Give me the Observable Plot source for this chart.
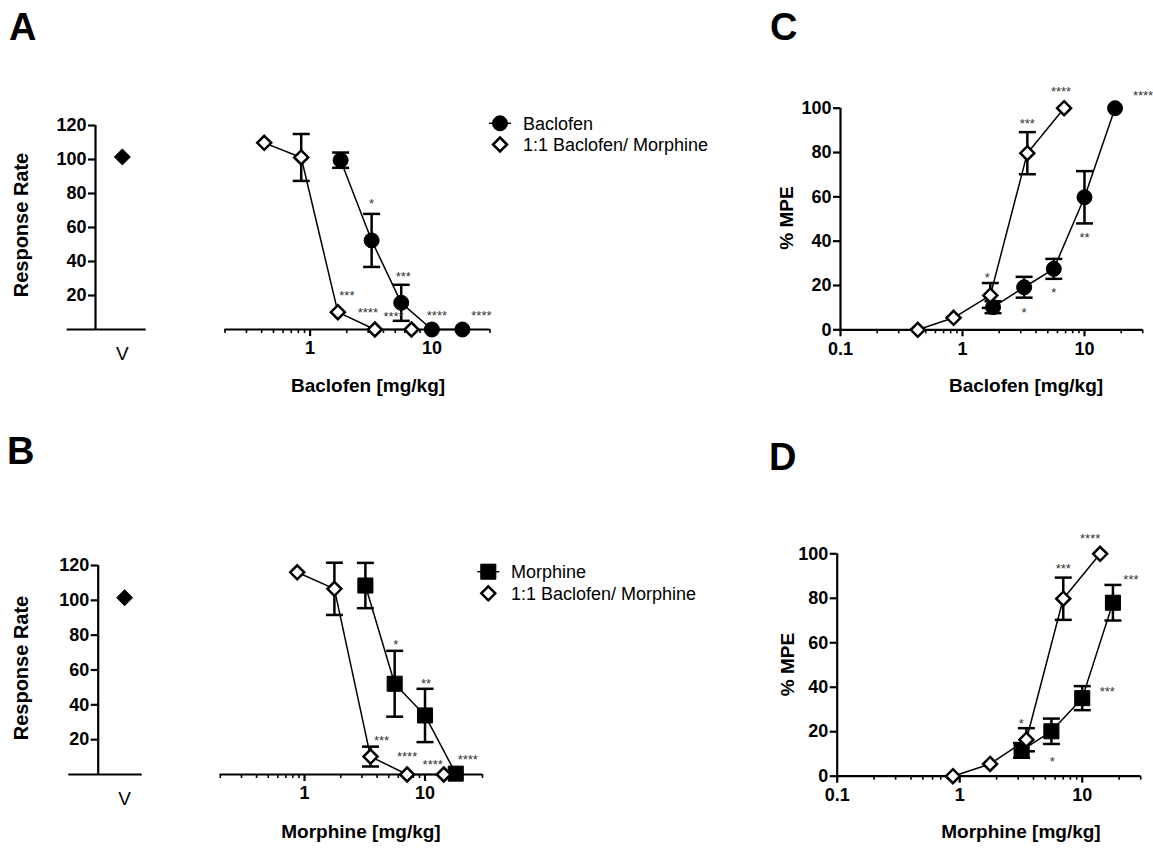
<!DOCTYPE html>
<html><head><meta charset="utf-8">
<script src="https://cdn.jsdelivr.net/npm/d3@7"></script>
<script src="https://cdn.jsdelivr.net/npm/@observablehq/plot@0.6"></script>
<style>
html,body{margin:0;padding:0;background:#fff;}
#root{position:relative;width:1153px;height:848px;overflow:hidden;background:#fff;}
#root svg{position:absolute;left:0;top:0;}
</style></head><body><div id="root"></div>
<script>
// ---------------- DATA ----------------
// Panel A: response rate, Baclofen alone vs 1:1 combination (baclofen dose)
const vehicleLabel = ["V"];
const vehicleRateA = [101.5];
const bacDoseA = [1.78, 3.2, 5.6, 10, 17.8];
const bacRateA = [99.6, 52.4, 15.7, 0, 0];
const bacRateErrA = [4.5, 15.6, 10.6, 0, 0];
const bacSigA = ["", "*", "***", "****", "****"];
const comboDoseA = [0.42, 0.845, 1.69, 3.4, 6.8];
const comboRateA = [109.8, 101.2, 10.2, 0, 0];
const comboRateErrA = [0, 13.8, 0, 0, 0];
const comboSigA = ["", "", "***", "****", "****"];

// Panel B: response rate, Morphine alone vs 1:1 combination (morphine dose)
const vehicleRateB = [101.5];
const morDoseB = [3.2, 5.6, 10, 18];
const morRateB = [108.5, 52.1, 33.9, 0.5];
const morRateErrB = [13, 18.9, 15.3, 0];
const morSigB = ["", "*", "**", "****"];
const comboDoseB = [0.87, 1.77, 3.53, 7.1, 14.3];
const comboRateB = [116.1, 106.6, 10.3, 0, 0];
const comboRateErrB = [0, 15, 5.7, 0, 0];
const comboSigB = ["", "", "***", "****", "****"];

// Panel C: %MPE, Baclofen vs combination
const bacDoseC = [1.78, 3.2, 5.6, 10, 17.8];
const bacMpeC = [10.2, 19.2, 27.5, 59.8, 100];
const bacMpeErrC = [2.7, 4.7, 4.5, 11.8, 0];
const bacSigC = ["", "*", "*", "**", "****"];
const comboDoseC = [0.43, 0.845, 1.69, 3.4, 6.8];
const comboMpeC = [0, 5.4, 15.5, 79.7, 100];
const comboMpeErrC = [0, 0, 5.6, 9.5, 0];
const comboSigC = ["", "", "*", "***", "****"];

// Panel D: %MPE, Morphine vs combination
const morDoseD = [3.2, 5.6, 10, 17.8];
const morMpeD = [11.6, 20.2, 35.1, 78];
const morMpeErrD = [3.3, 5.7, 5.4, 8];
const morSigD = ["", "*", "***", "***"];
const comboDoseD = [0.88, 1.77, 3.5, 7.0, 14];
const comboMpeD = [0, 5.5, 16.4, 79.8, 100];
const comboMpeErrD = [0, 0, 5.2, 9.5, 0];
const comboSigD = ["", "", "*", "***", "****"];

// Axis ticks
const rateTicks = [20, 40, 60, 80, 100, 120];
const mpeTicks = [0, 20, 40, 60, 80, 100];
const majorTicksAB = [1, 10];
const majorTicksCD = [0.1, 1, 10];
const minorTicksAB = [0.2,0.3,0.4,0.5,0.6,0.7,0.8,0.9,2,3,4,5,6,7,8,9,20,30];
const minorTicksCD = [0.2,0.3,0.4,0.5,0.6,0.7,0.8,0.9,2,3,4,5,6,7,8,9,20,30];

// ---------------- LAYOUT / STYLE ----------------
const W = 1153, H = 848;
const FONT = "'Liberation Sans', Arial, Helvetica, sans-serif";
const AX = 2.2;
const svgStyle = `background: transparent; overflow: visible; font: bold 18px ${FONT}; color: black;`;
const tickFont = {fontSize: 18, fontWeight: "bold", fontFamily: FONT, fill: "black"};
function frame(l, r, t, b) { return {width: W, height: H, marginLeft: l, marginRight: W - r, marginTop: t, marginBottom: H - b}; }
const capSymbol = {draw(ctx, size) { const w = Math.sqrt(size / Math.PI); ctx.moveTo(-w, 0); ctx.lineTo(w, 0); }};
function rows(doses, vals, errs, sig) { return doses.map((d, i) => ({dose: d, value: vals[i], err: errs[i], sig: sig[i]})); }

const markerStyle = {
  circle: {symbol: "circle", r: 7.5, fill: "black", stroke: "black", strokeWidth: 1},
  square: {symbol: "square", r: 8.5, fill: "black", stroke: "black", strokeWidth: 1},
  diamond: {symbol: "diamond2", r: 6.3, fill: "white", stroke: "black", strokeWidth: 2.5}
};

function dosePlot({fr, xDomain, yDomain, majors, minors, series, yTicks}) {
  const marks = [];
  marks.push(Plot.ruleY([0], {stroke: "black", strokeWidth: AX}));
  if (yTicks) {
    marks.push(Plot.ruleX([xDomain[0]], {stroke: "black", strokeWidth: AX}));
    marks.push(Plot.axisY({ticks: yTicks, tickFormat: d => String(d), tickSize: 7, tickPadding: 2, strokeWidth: AX, label: null, ...tickFont}));
  }
  marks.push(Plot.axisX({ticks: majors, tickFormat: d => String(d), tickSize: 7, tickPadding: 5, strokeWidth: AX, label: null, ...tickFont}));
  marks.push(Plot.axisX({ticks: minors, tickFormat: () => "", tickSize: 4, tickPadding: 0, strokeWidth: 1.6, label: null}));
  for (const s of series) marks.push(Plot.line(s.data, {x: "dose", y: "value", stroke: "black", strokeWidth: 1.5}));
  for (const s of series) {
    const e = s.data.filter(d => d.err > 0);
    marks.push(Plot.ruleX(e, {x: "dose", y1: d => d.value - d.err, y2: d => d.value + d.err, stroke: "black", strokeWidth: 2.5}));
    marks.push(Plot.dot(e, {x: "dose", y: d => d.value + d.err, symbol: capSymbol, r: 8.5, stroke: "black", strokeWidth: 2.5, fill: "none"}));
    marks.push(Plot.dot(e, {x: "dose", y: d => d.value - d.err, symbol: capSymbol, r: 8.5, stroke: "black", strokeWidth: 2.5, fill: "none"}));
  }
  for (const s of series) marks.push(Plot.dot(s.data, {x: "dose", y: "value", ...markerStyle[s.marker]}));
  for (const s of series) {
    s.data.forEach((d, i) => {
      const off = s.starOffsets[i];
      if (!d.sig || !off) return;
      marks.push(Plot.text([d], {x: "dose", y: "value", text: "sig", dx: off[0], dy: off[1] + 3,
        fontSize: 13, fontWeight: "normal", fontFamily: FONT, fill: "#333", lineAnchor: "middle", textAnchor: "middle"}));
    });
  }
  return Plot.plot({...fr, style: svgStyle,
    x: {type: "log", domain: xDomain, label: null},
    y: {domain: yDomain, label: null, axis: yTicks ? undefined : null},
    marks});
}

function vehiclePlot({fr, rate, vx, baseX1}) {
  const data = vehicleLabel.map((l, i) => ({label: l, value: rate[i]}));
  return Plot.plot({...fr, style: svgStyle,
    x: {domain: [0, 1], label: null},
    y: {domain: [0, 120], label: null},
    marks: [
      Plot.ruleY([0], {x1: () => baseX1, x2: () => 1, stroke: "black", strokeWidth: AX}),
      Plot.ruleX([0], {stroke: "black", strokeWidth: AX}),
      Plot.axisY({ticks: rateTicks, tickFormat: d => String(d), tickSize: 7, tickPadding: 2, strokeWidth: AX, label: null, ...tickFont}),
      Plot.axisX({ticks: [vx], tickFormat: () => vehicleLabel[0], tickSize: 0, tickPadding: 17, label: null,
        fontWeight: "normal", fontSize: 19, fontFamily: FONT, fill: "black"}),
      Plot.dot(data, {x: () => vx, y: "value", symbol: "diamond2", r: 7.2, fill: "black", stroke: "black", strokeWidth: 1})
    ]});
}

const root = document.getElementById("root");

// Panel A
root.appendChild(vehiclePlot({fr: frame(95, 145.7, 125, 329), rate: vehicleRateA, vx: 0.53, baseX1: -0.56}));
root.appendChild(dosePlot({fr: frame(224.5, 489.5, 125, 329), xDomain: [0.2, 30], yDomain: [0, 120],
  majors: majorTicksAB, minors: minorTicksAB,
  series: [
    {data: rows(bacDoseA, bacRateA, bacRateErrA, bacSigA), marker: "circle",
     starOffsets: [null, [0,-40], [2,-29], [5,-17], [19,-17]]},
    {data: rows(comboDoseA, comboRateA, comboRateErrA, comboSigA), marker: "diamond",
     starOffsets: [null, null, [9,-19], [-7,-20], [-18,-16]]}
  ]}));

// Panel B
root.appendChild(vehiclePlot({fr: frame(97.7, 141.7, 565, 774), rate: vehicleRateB, vx: 0.6, baseX1: -0.668}));
root.appendChild(dosePlot({fr: frame(219.8, 482, 565, 774), xDomain: [0.2, 30], yDomain: [0, 120],
  majors: majorTicksAB, minors: minorTicksAB,
  series: [
    {data: rows(morDoseB, morRateB, morRateErrB, morSigB), marker: "square",
     starOffsets: [null, [1,-42], [1,-35], [12,-17]]},
    {data: rows(comboDoseB, comboRateB, comboRateErrB, comboSigB), marker: "diamond",
     starOffsets: [null, null, [11,-19], [0,-21], [-11,-13]]}
  ]}));

// Panel C
root.appendChild(dosePlot({fr: frame(840, 1142.2, 107.7, 329.3), xDomain: [0.1, 30], yDomain: [0, 100],
  majors: majorTicksCD, minors: minorTicksCD, yTicks: mpeTicks,
  series: [
    {data: rows(bacDoseC, bacMpeC, bacMpeErrC, bacSigC), marker: "circle",
     starOffsets: [null, [0,23], [0,21], [0,38], [28,-15]]},
    {data: rows(comboDoseC, comboMpeC, comboMpeErrC, comboSigC), marker: "diamond",
     starOffsets: [null, null, [-3,-21], [0,-32], [-3,-19]]}
  ]}));

// Panel D
root.appendChild(dosePlot({fr: frame(836.7, 1140.2, 553.3, 775.7), xDomain: [0.1, 30], yDomain: [0, 100],
  majors: majorTicksCD, minors: minorTicksCD, yTicks: mpeTicks,
  series: [
    {data: rows(morDoseD, morMpeD, morMpeErrD, morSigD), marker: "square",
     starOffsets: [null, [1,28], [25,-9], [18,-26]]},
    {data: rows(comboDoseD, comboMpeD, comboMpeErrD, comboSigD), marker: "diamond",
     starOffsets: [null, null, [-5,-19], [0,-33], [-10,-18]]}
  ]}));

// ---------------- TITLES, LETTERS, LEGENDS ----------------
const ov = d3.create("svg").attr("width", W).attr("height", H)
  .style("font-family", FONT).style("overflow", "visible");
function txt(s, x, y, opt = {}) {
  const t = ov.append("text").attr("x", x).attr("y", y).text(s)
    .attr("font-size", opt.size || 19).attr("font-weight", opt.weight || "bold")
    .attr("text-anchor", opt.anchor || "middle").attr("fill", "black");
  if (opt.rotate) t.attr("transform", `rotate(-90 ${x} ${y})`);
  return t;
}
// panel letters
txt("A", 9, 39.5, {size: 38, anchor: "start"});
txt("C", 770, 40, {size: 38, anchor: "start"});
txt("B", 7, 464, {size: 38, anchor: "start"});
txt("D", 769, 470, {size: 38, anchor: "start"});
// axis titles
txt("Response Rate", 27.5, 225, {rotate: true, size: 20});
txt("Response Rate", 28, 668, {rotate: true, size: 20});
txt("Baclofen [mg/kg]", 368, 391.5);
txt("Morphine [mg/kg]", 361, 838);
txt("Baclofen [mg/kg]", 1026, 391.5);
txt("Morphine [mg/kg]", 1021, 838);
txt("% MPE", 793, 218, {rotate: true});
txt("% MPE", 794, 664.5, {rotate: true});

// legends
function legendSym(type, x, y, withLine) {
  if (withLine) ov.append("line").attr("x1", x - 11).attr("x2", x + 11).attr("y1", y).attr("y2", y)
    .attr("stroke", "black").attr("stroke-width", 1.5);
  const m = markerStyle[type];
  const symType = type === "circle" ? d3.symbolCircle : type === "square" ? d3.symbolSquare : d3.symbolDiamond2;
  ov.append("path").attr("d", d3.symbol(symType, Math.PI * m.r * m.r)())
    .attr("transform", `translate(${x},${y})`)
    .attr("fill", m.fill).attr("stroke", m.stroke).attr("stroke-width", m.strokeWidth);
}
legendSym("circle", 500, 123.3, true);
legendSym("diamond", 500, 144.5, false);
txt("Baclofen", 523, 129.6, {size: 18, weight: "normal", anchor: "start"});
txt("1:1 Baclofen/ Morphine", 523, 151, {size: 18, weight: "normal", anchor: "start"});
legendSym("square", 488.3, 571.7, true);
legendSym("diamond", 488.3, 593.3, false);
txt("Morphine", 511, 578, {size: 18, weight: "normal", anchor: "start"});
txt("1:1 Baclofen/ Morphine", 511, 599.6, {size: 18, weight: "normal", anchor: "start"});

root.appendChild(ov.node());
</script></body></html>
